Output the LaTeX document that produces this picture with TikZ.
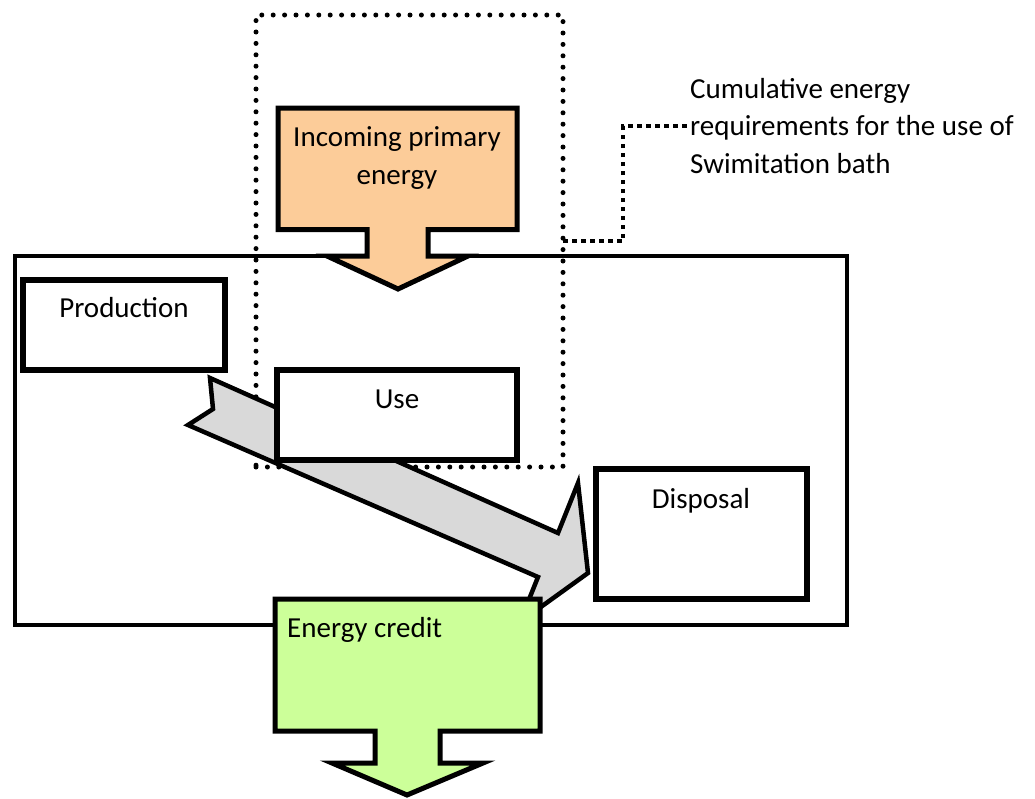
\documentclass[tikz,border=0pt]{standalone}
\usepackage{fontspec}
\setmainfont{Carlito}
\definecolor{peach}{RGB}{252,204,153}
\definecolor{lime}{RGB}{204,255,153}
\definecolor{lightgray}{RGB}{217,217,217}
\begin{document}
\begin{tikzpicture}[x=1pt,y=-1pt,
  box/.style={draw=black, line width=5.5pt, fill=white, rectangle, inner sep=0pt, outer sep=0pt},
  frame/.style={draw=black, line width=4.5pt, rectangle, inner sep=0pt, outer sep=0pt},
  dotframe/.style={draw=black, line width=5pt, line cap=round, dash pattern=on 0pt off 11.4pt, rectangle, inner sep=0pt, outer sep=0pt},
  conn/.style={draw=black, line width=4.5pt, dash pattern=on 4.5pt off 4.5pt},
  lbl/.style={font=\fontsize{29}{37.5}\selectfont, text=black, inner sep=0pt},
  callout/.style={draw=black, line width=5pt, line join=miter, miter limit=10},
]
\useasboundingbox (0,0) rectangle (1035,798);
\fill[white] (0,0) rectangle (1035,798);

% system boundary
\node[frame, minimum width=832pt, minimum height=369pt] (system) at (431,440.5) {};

% dotted scope of use phase
\node[dotframe, minimum width=307pt, minimum height=452pt] (scope) at (409.5,241) {};

% annotation
\node[lbl, anchor=west, align=left, inner sep=3pt] (cum) at (687,126) {Cumulative energy\\requirements for the use of\\Swimitation bath};
\draw[conn] (scope.east) -- ++(60,0) |- (cum.west);

% incoming primary energy callout
\draw[callout, fill=peach] (278,108) -- (517,108) -- (517,229.5) -- (428,229.5) -- (428,256) -- (468,256) -- (398,289) -- (327,256) -- (367,256) -- (367,229.5) -- (278,229.5) -- cycle;
\node[lbl, align=center] (incoming) at (397,158) {Incoming primary\\energy};

% production
\node[box, minimum width=202pt, minimum height=90pt] (production) at (124,325) {};
\node[lbl, anchor=base] (productiontext) at (124,317) {Production};

% life-cycle arrow
\draw[callout, line width=4.5pt, fill=lightgray] (210,378) -- (558,533) -- (578,483) -- (588,573) -- (520,622) -- (538,577) -- (188,425) -- (213,409) -- cycle;

% use
\node[box, minimum width=240pt, minimum height=90pt] (use) at (397,415) {};
\node[lbl, anchor=base] (usetext) at (397,408) {Use};

% disposal
\node[box, minimum width=211pt, minimum height=130pt] (disposal) at (701.5,534) {};
\node[lbl, anchor=base] (disposaltext) at (701,508) {Disposal};

% energy credit callout
\draw[callout, fill=lime] (275,599) -- (540,599) -- (540,731) -- (440,731) -- (440,763) -- (483,763) -- (407,795) -- (332,763) -- (375,763) -- (375,731) -- (275,731) -- cycle;
\node[lbl, anchor=base west] (credit) at (287,637) {Energy credit};
\end{tikzpicture}
\end{document}
